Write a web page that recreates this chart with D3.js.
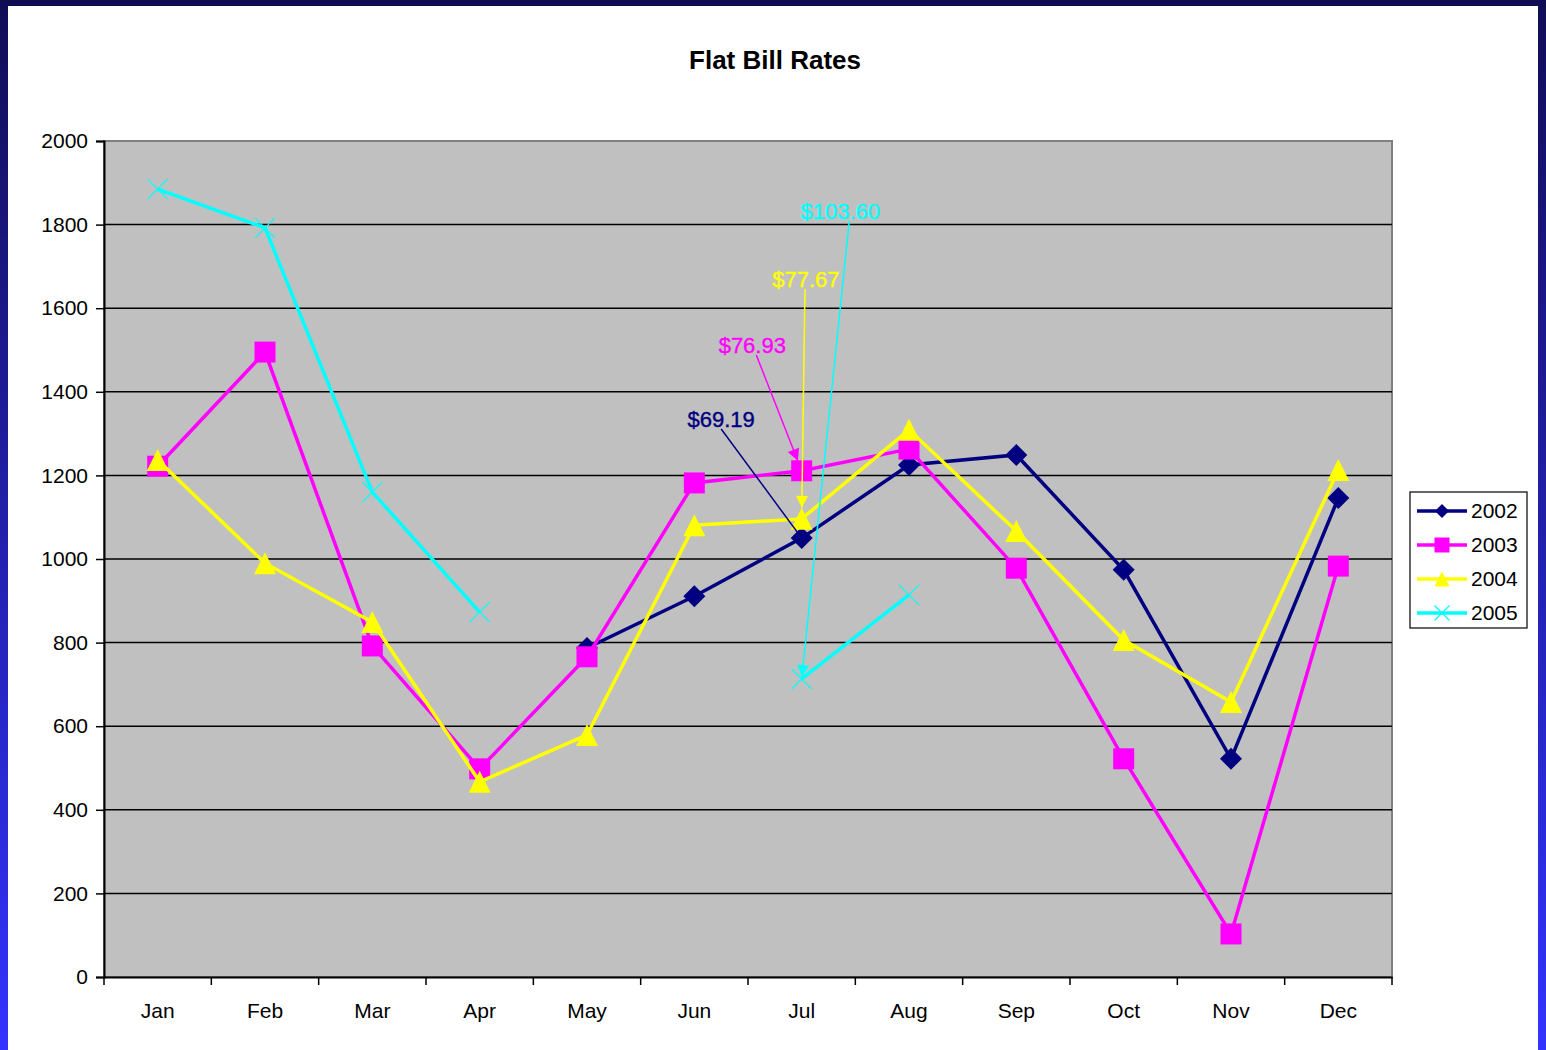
<!DOCTYPE html>
<html><head><meta charset="utf-8">
<script src="https://cdn.jsdelivr.net/npm/d3@7"></script>
<style>
html,body{margin:0;padding:0;background:#fff;}
svg{display:block;font-family:"Liberation Sans",Arial,sans-serif;}
</style></head>
<body>
<svg id="c" width="1546" height="1050"></svg>
<script>
const months = ["Jan","Feb","Mar","Apr","May","Jun","Jul","Aug","Sep","Oct","Nov","Dec"];
const yTicks = [0,200,400,600,800,1000,1200,1400,1600,1800,2000];
const seriesNames = ["2002","2003","2004","2005"];
const v2002 = [null,null,null,null,787,911,1050,1225,1249,974,522,1146];
const v2003 = [1222,1495,792,498,766,1182,1211,1263,978,522,103,983];
const v2004 = [1237,990,849,467,579,1081,1096,1309,1067,806,658,1213];
const v2005 = [1885,1792,1160,873,null,null,713,914,null,null,null,null];
const seriesColors = ["#000080","#ff00ff","#ffff00","#00ffff"];
const seriesMarkers = ["diamond","square","triangle","x"];
// annotations: label, text position (month index, value), target series index, month index
const annLabels = ["$69.19","$76.93","$77.67","$103.60"];
const annTextIdx = [5.25,5.54,6.04,6.36];
const annTextVal = [1335,1512,1670,1833];
const annSeries = [0,1,2,3];
const annMonth = [6,6,6,6];
const annArrow = [false,true,true,true];

const svg = d3.select("#c");
const W=1546,H=1050;
// frame
const defs = svg.append("defs");
const g1 = defs.append("linearGradient").attr("id","side").attr("x1",0).attr("y1",0).attr("x2",0).attr("y2",1);
g1.append("stop").attr("offset","0%").attr("stop-color","#110d55");
g1.append("stop").attr("offset","100%").attr("stop-color","#3333ff");
svg.append("rect").attr("x",0).attr("y",0).attr("width",W).attr("height",H).attr("fill","url(#side)");
svg.append("rect").attr("x",0).attr("y",0).attr("width",W).attr("height",6).attr("fill","#110d55");
svg.append("rect").attr("x",8).attr("y",6).attr("width",1530).attr("height",H-6).attr("fill","#fff");

const L=104,R=1392,T=141,B=977;
const x = d3.scaleBand().domain(months).range([L,R]).padding(0);
const xi = d3.scaleLinear().domain([-0.5,11.5]).range([L,R]);
const y = d3.scaleLinear().domain([0,2000]).range([B,T]);

// title
svg.append("text").attr("x",775).attr("y",69).attr("text-anchor","middle")
  .attr("font-size",26).attr("font-weight","bold").attr("fill","#000").text("Flat Bill Rates");

// plot area
svg.append("rect").attr("x",L).attr("y",T).attr("width",R-L).attr("height",B-T)
  .attr("fill","#c0c0c0").attr("stroke","#808080").attr("stroke-width",2);
// gridlines
svg.append("g").selectAll("line").data(yTicks.filter(d=>d>0 && d<2000)).join("line")
  .attr("x1",L).attr("x2",R).attr("y1",d=>y(d)).attr("y2",d=>y(d))
  .attr("stroke","#000").attr("stroke-width",1.5);

// y axis
const ya = svg.append("g").attr("transform",`translate(${L},0)`)
  .call(d3.axisLeft(y).tickValues(yTicks).tickFormat(d3.format("d")).tickSize(8).tickPadding(8));
ya.select(".domain").attr("stroke","#000").attr("stroke-width",2);
ya.selectAll(".tick line").attr("stroke","#000").attr("stroke-width",1.5);
ya.selectAll("text").attr("font-size",21).attr("fill","#000").attr("font-family","Liberation Sans, Arial, sans-serif");

// x axis
const xa = svg.append("g").attr("transform",`translate(0,${B})`)
  .call(d3.axisBottom(x).tickSize(0).tickPadding(26));
xa.select(".domain").attr("stroke","#000").attr("stroke-width",2);
xa.selectAll("text").attr("font-size",21).attr("fill","#000").attr("font-family","Liberation Sans, Arial, sans-serif");
const bounds = d3.range(13).map(i=>xi(i-0.5));
svg.append("g").selectAll("line").data(bounds).join("line")
  .attr("x1",d=>d).attr("x2",d=>d).attr("y1",B).attr("y2",B+8)
  .attr("stroke","#000").attr("stroke-width",1.5);

function markerPath(type, s){
  const h=s/2;
  if(type==="diamond") return `M0,${-h}L${h},0L0,${h}L${-h},0Z`;
  if(type==="square") return `M${-h},${-h}H${h}V${h}H${-h}Z`;
  if(type==="triangle") return `M0,${-h}L${h},${h}L${-h},${h}Z`;
  return `M${-h},${-h}L${h},${h}M${h},${-h}L${-h},${h}`;
}
const markerSize = {diamond:22,square:21,triangle:22,x:20};

const allVals=[v2002,v2003,v2004,v2005];
const line = d3.line().defined(d=>d.v!=null).x(d=>x(d.m)+x.bandwidth()/2).y(d=>y(d.v));
allVals.forEach((vals,si)=>{
  const data = vals.map((v,i)=>({m:months[i],v}));
  const gs = svg.append("g");
  gs.append("path").datum(data).attr("d",line).attr("fill","none")
    .attr("stroke",seriesColors[si]).attr("stroke-width",3.5).attr("stroke-linejoin","miter");
  const mk = seriesMarkers[si];
  gs.selectAll("path.mk").data(data.filter(d=>d.v!=null)).join("path").attr("class","mk")
    .attr("transform",d=>`translate(${x(d.m)+x.bandwidth()/2},${y(d.v)})`)
    .attr("d",markerPath(mk,markerSize[mk]))
    .attr("fill",mk==="x"?"none":seriesColors[si])
    .attr("stroke",seriesColors[si]).attr("stroke-width",mk==="x"?1.2:0);
});

// annotations
annLabels.forEach((lab,i)=>{
  const tx = xi(annTextIdx[i]), ty = y(annTextVal[i]);
  const col = seriesColors[annSeries[i]];
  const vals = allVals[annSeries[i]];
  const px = xi(annMonth[i]), py = y(vals[annMonth[i]]);
  const sx = tx + (i===0?0:(i===3?9:(i===1?4:-1))), sy = ty+10;
  const ms = markerSize[seriesMarkers[annSeries[i]]];
  let ex=px, ey=py;
  if(annArrow[i]){
    const dx=px-sx, dy=py-sy, len=Math.hypot(dx,dy);
    const cut = annSeries[i]===3 ? 2 : ms/2;
    ex = px - dx/len*cut; ey = py - dy/len*cut;
  }
  svg.append("line").attr("x1",sx).attr("y1",sy).attr("x2",ex).attr("y2",ey)
    .attr("stroke",col).attr("stroke-width",1.5);
  if(annArrow[i]){
    const ang=Math.atan2(ey-sy,ex-sx);
    const al=12, aw=6;
    const bx=ex-Math.cos(ang)*al, by=ey-Math.sin(ang)*al;
    const nx=-Math.sin(ang)*aw, ny=Math.cos(ang)*aw;
    svg.append("path").attr("d",`M${ex},${ey}L${bx+nx},${by+ny}L${bx-nx},${by-ny}Z`).attr("fill",col);
  }
  svg.append("text").attr("x",tx).attr("y",ty+8).attr("text-anchor","middle")
    .attr("font-size",22).attr("fill",col).attr("stroke",col).attr("stroke-width",0.4).text(lab);
});

// legend
const lg = svg.append("g").attr("transform","translate(1410,492)");
lg.append("rect").attr("x",0).attr("y",0).attr("width",117).attr("height",136)
  .attr("fill","#fff").attr("stroke","#000").attr("stroke-width",1.2);
const legendSize={diamond:14,square:15,triangle:15,x:15};
seriesNames.forEach((n,i)=>{
  const yy = 19 + i*34;
  lg.append("line").attr("x1",7).attr("x2",57).attr("y1",yy).attr("y2",yy)
    .attr("stroke",seriesColors[i]).attr("stroke-width",3.5);
  const mk=seriesMarkers[i];
  lg.append("path").attr("transform",`translate(32,${yy})`).attr("d",markerPath(mk,legendSize[mk]))
    .attr("fill",mk==="x"?"none":seriesColors[i]).attr("stroke",seriesColors[i]).attr("stroke-width",mk==="x"?1.2:0);
  lg.append("text").attr("x",61).attr("y",yy+7).attr("font-size",21).attr("fill","#000").text(n);
});
</script>
</body></html>
